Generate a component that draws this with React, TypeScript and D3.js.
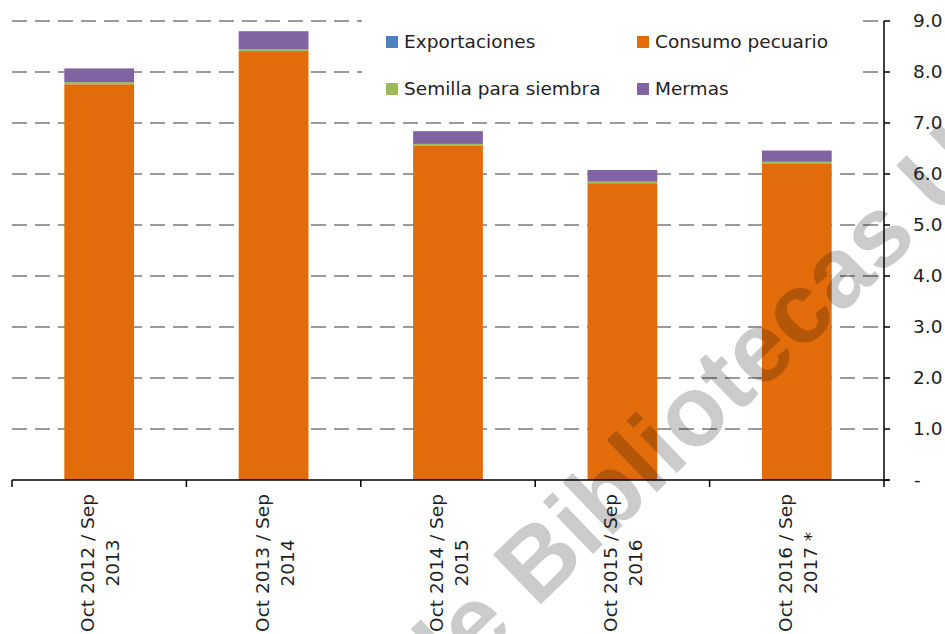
import React from "react";
import * as d3 from "d3";

const categories = [
  ["Oct 2012 / Sep", "2013"],
  ["Oct 2013 / Sep", "2014"],
  ["Oct 2014 / Sep", "2015"],
  ["Oct 2015 / Sep", "2016"],
  ["Oct 2016 / Sep", "2017 *"],
];
const exportaciones = [0.0, 0.0, 0.0, 0.0, 0.0];
const consumoPecuario = [7.76, 8.41, 6.55, 5.82, 6.21];
const semillaSiembra = [0.04, 0.04, 0.04, 0.03, 0.03];
const mermas = [0.27, 0.35, 0.25, 0.23, 0.22];
const yTicks = [0, 1, 2, 3, 4, 5, 6, 7, 8, 9];
const seriesNames = ["Exportaciones", "Consumo pecuario", "Semilla para siembra", "Mermas"];
const seriesColors = ["#4F81BD", "#E36C0A", "#9BBB59", "#8064A2"];

const W = 945;
const H = 634;
const FONT = "'DejaVu Sans', sans-serif";
const FS = 18.5;

export default function App() {
  const left = 12;
  const right = 884;
  const y0 = 480;
  const yTop = 21;
  const keys = categories.map((c) => c.join(" "));
  const x = d3.scaleBand<string>().domain(keys).range([left, right]).padding(0);
  const y = d3.scaleLinear().domain([0, 9]).range([y0, yTop]);
  const barW = x.bandwidth() * 0.4;

  const rows = keys.map((k, i) => ({
    key: k,
    s0: exportaciones[i],
    s1: consumoPecuario[i],
    s2: semillaSiembra[i],
    s3: mermas[i],
  }));
  const stack = d3.stack<any>().keys(["s0", "s1", "s2", "s3"]);
  const layers = stack(rows);

  const boundaries = [left, ...keys.map((k) => (x(k) as number) + x.bandwidth())];

  return (
    <svg width={W} height={H} style={{ position: "absolute", left: 0, top: 0, background: "#fff" }}>
      <rect width={W} height={H} fill="#fff" />
      {/* gridlines */}
      {yTicks.filter((t) => t > 0).map((t) => (
        <line
          key={"g" + t}
          x1={left}
          x2={right}
          y1={y(t)}
          y2={y(t)}
          stroke="#9a9a9a"
          strokeWidth={2}
          strokeDasharray="15,8"
        />
      ))}
      {/* legend background */}
      <rect x={362} y={8} width={500} height={98} fill="#fff" />
      {/* bars */}
      {layers.map((layer, li) =>
        layer.map((d, i) => {
          const h = y(d[0]) - y(d[1]);
          if (h <= 0.01) return null;
          return (
            <rect
              key={li + "-" + i}
              x={(x(keys[i]) as number) + (x.bandwidth() - barW) / 2}
              y={y(d[1])}
              width={barW}
              height={h}
              fill={seriesColors[li]}
            />
          );
        })
      )}
      {/* watermark */}
      <g
        transform="translate(536,609) rotate(-44)"
        opacity={0.2}
        fill="#000"
        fontFamily="'Liberation Sans', Arial, sans-serif"
        fontWeight="bold"
        fontSize={100}
      >
        <text x={0} y={0} textAnchor="end">{"Red de\u00a0"}</text>
        <text x={0} y={0} textAnchor="start">Bibliotecas Universitarias</text>
      </g>
      {/* x axis */}
      <line x1={left} x2={right + 5} y1={y0} y2={y0} stroke="#000" strokeWidth={1.5} />
      {boundaries.map((b, i) => (
        <line key={"xt" + i} x1={b} x2={b} y1={y0} y2={y0 + 7} stroke="#000" strokeWidth={1.5} />
      ))}
      {/* right axis */}
      <line x1={right} x2={right} y1={yTop} y2={y0} stroke="#000" strokeWidth={1.5} />
      {yTicks.map((t) => (
        <line key={"yt" + t} x1={right} x2={right + 6} y1={y(t)} y2={y(t)} stroke="#000" strokeWidth={1.5} />
      ))}
      {yTicks.map((t) => (
        <text
          key={"yl" + t}
          x={t === 0 ? 914 : 913}
          y={y(t)}
          dy="0.35em"
          fontFamily={FONT}
          fontSize={FS}
          fill="#1f1f1f"
        >
          {t === 0 ? "-" : d3.format(".1f")(t)}
        </text>
      ))}
      {/* x labels */}
      {categories.map((c, i) => {
        const cx = (x(keys[i]) as number) + x.bandwidth() / 2;
        return (
          <text
            key={"xl" + i}
            transform={`translate(${cx},563) rotate(-90)`}
            textAnchor="middle"
            fontFamily={FONT}
            fontSize={FS}
            fill="#1f1f1f"
          >
            <tspan x={0} y={-5}>{c[0]}</tspan>
            <tspan x={0} y={20}>{c[1]}</tspan>
          </text>
        );
      })}
      {/* legend */}
      {seriesNames.map((n, i) => {
        const col = i % 2 === 0 ? 0 : 1;
        const row = i < 2 ? 0 : 1;
        const lx = col === 0 ? 386 : 637;
        const ly = row === 0 ? 36 : 83;
        return (
          <g key={"lg" + i}>
            <rect x={lx} y={ly} width={12} height={12} fill={seriesColors[i]} />
            <text x={lx + 18} y={ly + 12} fontFamily={FONT} fontSize={FS} fill="#1f1f1f">
              {n}
            </text>
          </g>
        );
      })}
    </svg>
  );
}
